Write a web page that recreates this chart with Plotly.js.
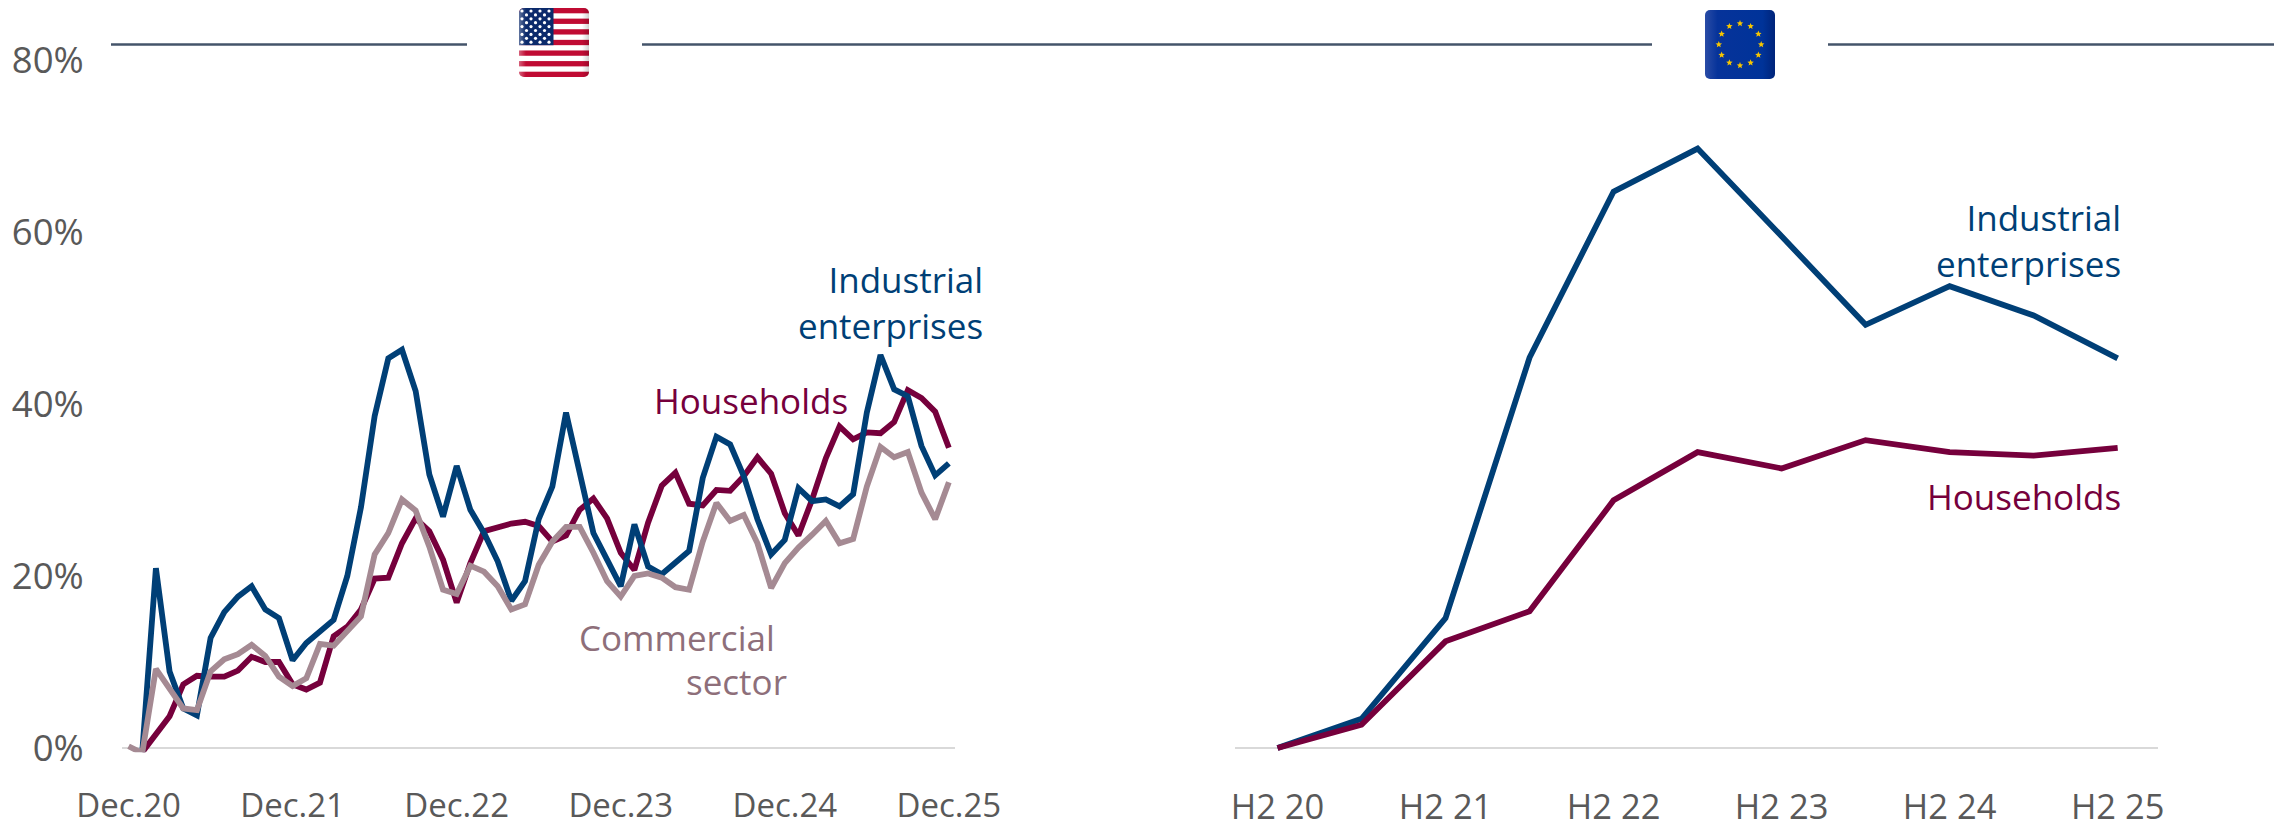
<!DOCTYPE html>
<html><head><meta charset="utf-8">
<script src="https://cdn.plot.ly/plotly-3.0.1.min.js"></script>
<style>html,body{margin:0;padding:0;background:#fff;overflow:hidden}#c{width:2287px;height:820px}</style>
</head><body><div id="c"></div>
<script>
const usIndustrial=[null,-0.5,20.9,8.9,4.6,3.8,12.8,15.8,17.6,18.8,16.1,15.1,10.2,12.2,13.6,14.9,20,28,38.6,45.3,46.3,41.5,31.8,26.9,32.8,27.7,25,21.7,17.1,19.4,26.6,30.4,39,31.6,25,21.9,18.8,26,21.1,20.2,21.5,22.9,31.4,36.2,35.3,31.6,26.6,22.5,24.2,30.2,28.7,28.9,28.1,29.5,39,45.7,41.7,40.9,35.1,31.7,33.1];
const usHouseholds=[null,-0.5,1.7,3.7,7.4,8.4,8.3,8.3,9,10.6,10,10,7.4,6.8,7.6,13,14.1,16.1,19.7,19.8,23.8,26.7,25.2,21.9,16.9,21.5,25.2,25.7,26.1,26.3,25.8,24,24.7,27.7,29,26.7,22.7,20.7,26.2,30.5,32,28.4,28.2,30,29.9,31.6,33.8,31.9,27.3,24.7,28.9,33.7,37.4,35.9,36.7,36.6,37.9,41.6,40.7,39.1,34.9];
const usCommercial=[0.2,-0.6,9.2,6.8,4.6,4.4,8.9,10.3,10.9,12,10.7,8.3,7.2,8.1,12.1,11.9,13.6,15.3,22.5,25,28.9,27.6,23.4,18.4,17.9,21.2,20.5,18.8,16.1,16.7,21.3,24,25.7,25.7,22.7,19.4,17.6,20,20.3,19.8,18.7,18.4,24,28.5,26.4,27.1,23.8,18.6,21.5,23.3,24.8,26.4,23.8,24.3,30.4,35,33.8,34.4,29.7,26.6,30.9];
const euPeriods=["H2 20","H1 21","H2 21","H1 22","H2 22","H1 23","H2 23","H1 24","H2 24","H1 25","H2 25"];
const euIndustrial=[0,3.4,15.1,45.4,64.7,69.7,59.5,49.2,53.7,50.3,45.3];
const euHouseholds=[0,2.7,12.4,15.9,28.8,34.4,32.5,35.8,34.4,34,34.9];
const usTickVals=[0,12,24,36,48,60];
const usTickText=["Dec.20","Dec.21","Dec.22","Dec.23","Dec.24","Dec.25"];
const euTicks=["H2 20","H2 21","H2 22","H2 23","H2 24","H2 25"];
const yTicks=[0,20,40,60,80];
const yTickText=["0%","20%","40%","60%","80%"];

const W=2287,H=820,FONT='"Open Sans", "Noto Sans", sans-serif';
const BLUE='#003F76',MAROON='#76003C',MAUVE='#A58A93',MAUVET='#8E6F7A',TICK='#595959',HDR='#44546A';
const px=x=>x/W, py=y=>1-y/H;
const idx=usIndustrial.map((_,i)=>i);

function line(x,y,c,xa){return {type:'scatter',mode:'lines',x:x,y:y,xaxis:xa,yaxis:'y',line:{color:c,width:5.8,shape:'linear'},hoverinfo:'skip',showlegend:false,connectgaps:false};}
const traces=[
 line(idx,usHouseholds,MAROON,'x'),
 line(idx,usIndustrial,BLUE,'x'),
 line(idx,usCommercial,MAUVE,'x'),
 line(euPeriods,euIndustrial,BLUE,'x2'),
 line(euPeriods,euHouseholds,MAROON,'x2')
];

function hdr(a,b){return {type:'line',xref:'paper',yref:'paper',x0:px(a),x1:px(b),y0:py(44.5),y1:py(44.5),line:{color:HDR,width:2.5}};}
const FS=35;
function note(text,x,y,c,anchor){return {xref:'paper',yref:'paper',x:px(x),y:py(y),text:text,showarrow:false,xanchor:anchor||'right',yanchor:'middle',align:'right',font:{family:FONT,size:FS,color:c}};}

function usFlag(){
 let s='<svg xmlns="http://www.w3.org/2000/svg" width="70" height="69" viewBox="0 0 70 69"><defs><clipPath id="r"><rect width="70" height="69" rx="5"/></clipPath><linearGradient id="g"><stop offset="0" stop-color="#fff" stop-opacity=".35"/><stop offset=".1" stop-color="#fff" stop-opacity="0"/><stop offset=".9" stop-color="#000" stop-opacity="0"/><stop offset="1" stop-color="#000" stop-opacity=".18"/></linearGradient></defs><g clip-path="url(#r)"><rect width="70" height="69" fill="#fff"/>';
 for(let i=0;i<13;i+=2){s+='<rect y="'+(i*69/13)+'" width="70" height="'+(69/13)+'" fill="#C00B33"/>';}
 s+='<rect width="34.5" height="37.2" fill="#0B2A6B"/>';
 for(let r=0;r<9;r++){const odd=r%2;const n=odd?3:4;for(let c=0;c<n;c++){s+='<circle cx="'+(3+c*9+(odd?4.5:0))+'" cy="'+(3+r*3.9)+'" r="1.6" fill="#fff"/>';}}
 s+='<rect width="70" height="69" fill="url(#g)"/></g></svg>';
 return 'data:image/svg+xml;charset=utf-8,'+encodeURIComponent(s);
}
function euFlag(){
 let s='<svg xmlns="http://www.w3.org/2000/svg" width="70" height="69" viewBox="0 0 70 69"><defs><linearGradient id="g"><stop offset="0" stop-color="#2A4CA6"/><stop offset=".18" stop-color="#06339A"/><stop offset=".82" stop-color="#003399"/><stop offset="1" stop-color="#00247A"/></linearGradient></defs><rect width="70" height="69" rx="5" fill="url(#g)"/>';
 for(let i=0;i<12;i++){const a=i*Math.PI/6,cx=35+21.2*Math.sin(a),cy=34.5-21*Math.cos(a);let p='';for(let k=0;k<10;k++){const r=k%2?1.5:3.4,b=k*Math.PI/5;p+=(cx+r*Math.sin(b)).toFixed(2)+','+(cy-r*Math.cos(b)).toFixed(2)+' ';}s+='<polygon points="'+p+'" fill="#F7C600"/>';}
 s+='</svg>';
 return 'data:image/svg+xml;charset=utf-8,'+encodeURIComponent(s);
}
function flag(src,x,y){return {source:src,xref:'paper',yref:'paper',x:px(x),y:py(y),sizex:70/W,sizey:69/H,xanchor:'left',yanchor:'top',sizing:'stretch',layer:'above'};}

const tf=s=>({family:FONT,size:s,color:TICK});
const layout={
 width:W,height:H,margin:{l:0,r:0,t:0,b:0},paper_bgcolor:'#fff',plot_bgcolor:'#fff',showlegend:false,
 xaxis:{domain:[px(122),px(955)],range:[-0.48,60.45],type:'linear',tickvals:usTickVals,ticktext:usTickText,showgrid:false,zeroline:false,showline:false,ticks:'outside',ticklen:24,tickcolor:'rgba(0,0,0,0)',tickfont:tf(33),anchor:'y'},
 xaxis2:{domain:[px(1235),px(2158)],range:[-0.506,10.48],type:'category',categoryorder:'array',categoryarray:euPeriods,tickvals:euTicks,ticktext:euTicks,showgrid:false,zeroline:false,showline:false,ticks:'outside',ticklen:24,tickcolor:'rgba(0,0,0,0)',tickfont:tf(34.5),anchor:'y'},
 yaxis:{domain:[py(752.2),py(50)],range:[-0.49,81.16],tickvals:yTicks,ticktext:yTickText,showgrid:false,zeroline:true,zerolinecolor:'#D9D9D9',zerolinewidth:2,showline:false,ticks:'outside',ticklen:30,tickcolor:'rgba(0,0,0,0)',tickfont:tf(36.5),anchor:'x'},
 shapes:[hdr(111,467),hdr(642,1652),hdr(1828,2274)],
 images:[flag(usFlag(),519,8),flag(euFlag(),1705,10)],
 annotations:[
  note('Industrial<br>enterprises',985,302,BLUE),
  note('Households',850,400,MAROON),
  note('Commercial',777,637,MAUVET),
  note('sector',789,681,MAUVET),
  note('Industrial<br>enterprises',2123,240,BLUE),
  note('Households',2123,496,MAROON)
 ]
};
Plotly.newPlot('c',traces,layout,{displayModeBar:false,staticPlot:true});
</script></body></html>
